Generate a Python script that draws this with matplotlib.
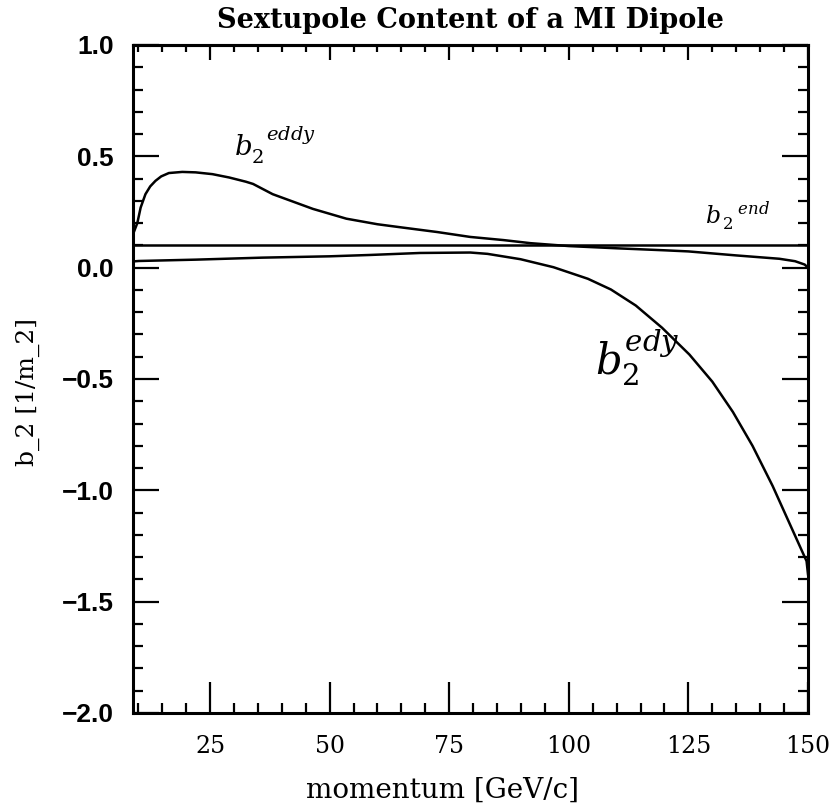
import matplotlib
matplotlib.use("Agg")
import matplotlib.pyplot as plt
from matplotlib.ticker import MultipleLocator

# momentum [GeV/c] and b_2 values
p_eddy_a = [8.9, 9.8, 10.5, 11.5, 12.5, 13.6, 14.8, 16.4, 19.2, 22.0, 25.5, 29.0,
            32.5, 34.0, 38.1, 46.5, 53.5, 60.0, 65.3, 72.5, 79.4, 86.3, 92.0,
            100.0, 110.0, 120.0, 125.0, 135.0, 144.0, 147.3, 149.3, 150.0]
b2_eddy_a = [0.15, 0.20, 0.27, 0.33, 0.365, 0.39, 0.41, 0.425, 0.43, 0.428, 0.42, 0.405,
             0.386, 0.376, 0.33, 0.264, 0.22, 0.195, 0.18, 0.16, 0.138, 0.124, 0.11,
             0.097, 0.087, 0.078, 0.073, 0.055, 0.04, 0.029, 0.014, 0.0]

p_eddy_b = [8.9, 10.1, 22.0, 35.9, 50.0, 58.4, 68.9, 79.4, 83.0, 89.9, 96.8, 104.0,
            108.8, 114.0, 119.5, 125.2, 130.0, 134.3, 138.4, 142.6, 146.8, 149.7, 150.0]
b2_eddy_b = [0.028, 0.03, 0.036, 0.045, 0.051, 0.057, 0.066, 0.068, 0.062, 0.038, 0.002, -0.05,
             -0.098, -0.17, -0.27, -0.39, -0.512, -0.648, -0.80, -0.98, -1.18, -1.318, -1.377]

p_end = [8.9, 150.0]
b2_end = [0.1, 0.1]

plt.rcParams["mathtext.fontset"] = "dejavuserif"

fig = plt.figure(figsize=(8.35, 8.06), dpi=100)
ax = fig.add_axes([133 / 835, 1 - 713 / 806, 675 / 835, 668 / 806])

for xs, ys in ((p_eddy_a, b2_eddy_a), (p_eddy_b, b2_eddy_b), (p_end, b2_end)):
    ax.plot(xs, ys, color="black", lw=1.8, solid_joinstyle="round")

ax.set_xlim(8.9, 150)
ax.set_ylim(-2.0, 1.0)

ax.xaxis.set_major_locator(MultipleLocator(25))
ax.xaxis.set_minor_locator(MultipleLocator(5))
ax.yaxis.set_major_locator(MultipleLocator(0.5))
ax.yaxis.set_minor_locator(MultipleLocator(0.1))
ax.yaxis.set_major_formatter(plt.FuncFormatter(lambda v, _: f"{v:.1f}".replace("-", "\u2212")))

ax.tick_params(axis="both", which="both", direction="in", color="black", width=1.6)
ax.tick_params(axis="x", which="major", length=22, pad=16, labelsize=17)
ax.tick_params(axis="x", which="minor", length=7)
ax.tick_params(axis="y", which="major", length=19, pad=14, labelsize=19, right=True)
ax.tick_params(axis="y", which="minor", length=7, right=True)
for lab in ax.get_xticklabels():
    lab.set_fontfamily("DejaVu Serif")
for lab in ax.get_yticklabels():
    lab.set_fontfamily("Liberation Sans")
    lab.set_fontweight("bold")

# shorter ticks along the top edge
top = ax.secondary_xaxis("top")
top.xaxis.set_major_locator(MultipleLocator(25))
top.xaxis.set_minor_locator(MultipleLocator(5))
top.tick_params(which="major", direction="in", length=11, width=1.6, labeltop=False)
top.tick_params(which="minor", direction="in", length=5, width=1.6)
top.spines["top"].set_linewidth(2.2)

for s in ax.spines.values():
    s.set_linewidth(2.2)

ax.set_title("Sextupole Content of a MI Dipole", fontsize=19.5, fontweight="bold",
             family="DejaVu Serif", pad=12)
ax.set_xlabel("momentum [GeV/c]", fontsize=20, family="DejaVu Serif")
ax.xaxis.set_label_coords(0.458, -0.095)
ax.set_ylabel("b_2 [1/m_2]", fontsize=18, family="DejaVu Serif")
ax.yaxis.set_label_coords(-0.138, 0.48)

# hand-written curve labels
ax.text(30.0, 0.50, r"$b_{2}^{\ \ eddy}$", fontsize=20)
ax.text(128.5, 0.20, r"$b_{\,2}^{\ \ \ end}$", fontsize=17)
ax.text(105.5, -0.48, r"$b_{2}^{edy}$", fontsize=30)

fig.savefig("out.png", dpi=100)
